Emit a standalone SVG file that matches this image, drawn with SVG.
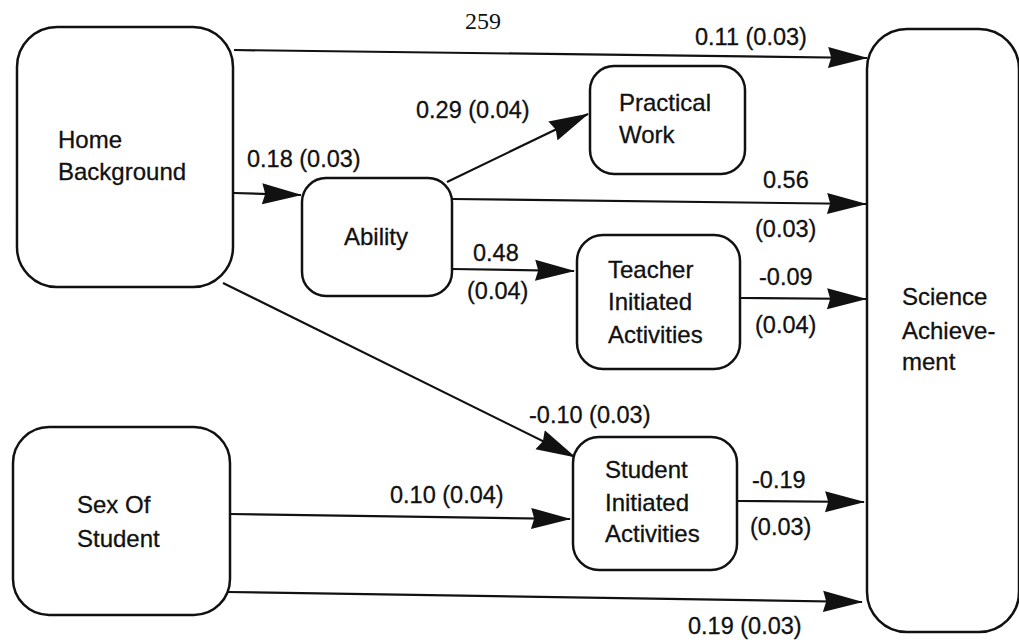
<svg xmlns="http://www.w3.org/2000/svg" width="1019" height="642" viewBox="0 0 1019 642">
<style>
.box{fill:#fff;stroke:#111;stroke-width:2.5}
.t{font-family:"Liberation Sans",Arial,sans-serif;font-size:24px;fill:#111;stroke:#111;stroke-width:0.3}
.l{font-family:"Liberation Sans",Arial,sans-serif;font-size:23.5px;fill:#111;stroke:#111;stroke-width:0.3}
.c{stroke:#111;stroke-width:2.2;fill:none;marker-end:url(#ah)}
</style>
<defs>
<marker id="ah" markerUnits="userSpaceOnUse" markerWidth="40" markerHeight="22" viewBox="0 0 38 20" refX="37" refY="10" orient="auto">
<path d="M0,0 L38,10 L0,20 L3,10 z" fill="#111"/>
</marker>
</defs>
<rect width="1019" height="642" fill="#fff"/>
<text x="465" y="29" font-family="Liberation Serif,serif" font-size="24" fill="#111">259</text>
<g id="connectors">
<line class="c" x1="234" y1="50" x2="867" y2="58"/>
<line class="c" x1="234" y1="193" x2="301" y2="195"/>
<line class="c" x1="447" y1="182" x2="588" y2="114"/>
<line class="c" x1="452" y1="199" x2="866" y2="204"/>
<line class="c" x1="452" y1="269" x2="574" y2="271"/>
<line class="c" x1="740" y1="298" x2="866" y2="299"/>
<line class="c" x1="223" y1="283" x2="575" y2="457"/>
<line class="c" x1="230" y1="514" x2="570" y2="519"/>
<line class="c" x1="737" y1="501" x2="864" y2="502"/>
<line class="c" x1="228" y1="592" x2="862" y2="602"/>
<text class="l" x="695" y="45">0.11 (0.03)</text>
<text class="l" x="247" y="167">0.18 (0.03)</text>
<text class="l" x="416" y="118">0.29 (0.04)</text>
<text class="l" x="763" y="188">0.56</text>
<text class="l" x="755" y="237">(0.03)</text>
<text class="l" x="473" y="261">0.48</text>
<text class="l" x="467" y="299">(0.04)</text>
<text class="l" x="759" y="285">-0.09</text>
<text class="l" x="755" y="333">(0.04)</text>
<text class="l" x="529" y="423">-0.10 (0.03)</text>
<text class="l" x="390" y="503">0.10 (0.04)</text>
<text class="l" x="752" y="488">-0.19</text>
<text class="l" x="750" y="535">(0.03)</text>
<text class="l" x="688" y="634">0.19 (0.03)</text>
</g>
<g id="home">
<rect class="box" x="17" y="27" width="216" height="260" rx="40"/>
<text class="t" x="58" y="148">Home</text>
<text class="t" x="58" y="180">Background</text>
</g>
<g id="ability">
<rect class="box" x="302" y="178" width="150" height="118" rx="24"/>
<text class="t" x="344" y="245">Ability</text>
</g>
<g id="practical">
<rect class="box" x="590" y="66" width="155" height="108" rx="24"/>
<text class="t" x="619" y="111">Practical</text>
<text class="t" x="619" y="143">Work</text>
</g>
<g id="teacher">
<rect class="box" x="577" y="235" width="163" height="134" rx="26"/>
<text class="t" x="608" y="278">Teacher</text>
<text class="t" x="608" y="310">Initiated</text>
<text class="t" x="608" y="343">Activities</text>
</g>
<g id="student">
<rect class="box" x="573" y="437" width="164" height="133" rx="26"/>
<text class="t" x="605" y="478">Student</text>
<text class="t" x="605" y="511">Initiated</text>
<text class="t" x="605" y="542">Activities</text>
</g>
<g id="sex">
<rect class="box" x="13" y="427" width="217" height="188" rx="36"/>
<text class="t" x="77" y="513">Sex Of</text>
<text class="t" x="77" y="547">Student</text>
</g>
<g id="science">
<rect class="box" x="867" y="29" width="152" height="603" rx="40"/>
<text class="t" x="902" y="305">Science</text>
<text class="t" x="902" y="339">Achieve-</text>
<text class="t" x="902" y="370">ment</text>
</g>
</svg>
